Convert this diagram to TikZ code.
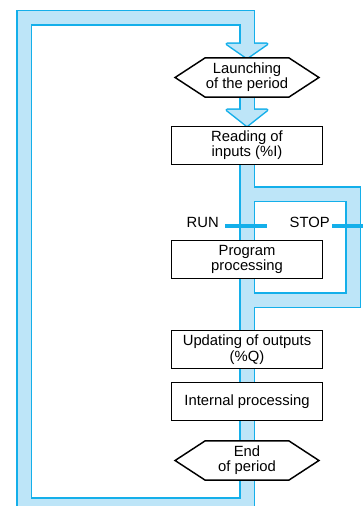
\documentclass[tikz,border=0pt]{standalone}
\usepackage{fontspec}
\setmainfont{Liberation Sans}
\usepackage{xcolor}
\usepackage{tikz}
\usetikzlibrary{positioning, backgrounds}

\definecolor{bandfill}{RGB}{189,229,248}
\definecolor{bandedge}{RGB}{20,175,234}

\begin{document}
\begin{tikzpicture}[x=0.75pt, y=-0.75pt, node distance=1cm, on grid,
		font=\fontsize{11.1}{11.5}\selectfont,
		box/.style={draw, fill=white, line width=1.1pt, minimum width=113pt, minimum height=28.5pt, inner sep=0pt, align=center},
		hexbox/.style={minimum width=62.5pt, minimum height=29pt, inner sep=0pt, align=center},
		hexline/.style={draw=black, fill=white, line width=1.1pt},
		lbl/.style={inner sep=0pt},
		bar/.style={bandedge, line width=3pt}]
		\useasboundingbox (0,0) rectangle (362,506);
		
		\node[hexbox] (launch) at (247,77.5) {Launching\\of the period};
		\node[box] (read) [below=51pt of launch] {Reading of\\inputs (\%I)};
		\node[box] (prog) [below=85.5pt of read] {Program\\processing};
		\node[box] (upd) [below=67.5pt of prog] {Updating of outputs\\(\%Q)};
		\node[box] (intp) [below=39pt of upd] {Internal processing};
		\node[hexbox] (endp) [below=44.25pt of intp] {End\\of period};
		
		\coordinate (botR) at (247,505);
		\coordinate (botL) at (24,505);
		\coordinate (topL) at (24,18);
		\coordinate (topR) at (247,18);
		\coordinate (arrA) at (247,44);
		\coordinate (arrB) at (247,110);
		\coordinate (brk) at (247,194);
		\coordinate (brkR) at (353,194);
		\coordinate (retR) at (353,300);
		\coordinate (ret) at (247,300);
		\coordinate (runL) at (225,226);
		\coordinate (runR) at (267,226);
		\coordinate (stopL) at (332,226);
		\coordinate (stopR) at (363,226);
		
		\begin{pgfonlayer}{background}
			\foreach \c/\d/\w in {bandedge/bandedge/12pt, bandfill/none/9.75pt} {
				\draw[\c, line width=\w] (endp.south) -- (botR) -- (botL) -- (topL) -- (topR) -- (arrA);
				\draw[\c, line width=\w] (launch.south) -- (arrB);
				\draw[\c, line width=\w] (read.south) -- (endp.north);
				\draw[\c, line width=\w] (brk) -- (brkR) -- (retR) -- (ret);
				\path[fill=\c, draw=\d, line width=2.25pt, line join=round] ([xshift=-15pt]arrA) -- ([xshift=15pt]arrA) -- (launch.north) -- cycle;
				\path[fill=\c, draw=\d, line width=2.25pt, line join=round] ([xshift=-15pt]arrB) -- ([xshift=15pt]arrB) -- (read.north) -- cycle;
			}
			\foreach \h in {launch, endp}
				\path[hexline] (\h.north west) -- (\h.north east) -- ([xshift=22.5pt]\h.east) -- (\h.south east) -- (\h.south west) -- ([xshift=-22.5pt]\h.west) -- cycle;
		\end{pgfonlayer}
		
		\draw[bar] (runL) -- (runR);
		\draw[bar] (stopL) -- (stopR);
		\node[lbl, anchor=base east] (run) at ([xshift=-4.5pt, yshift=-0.75pt]runL) {RUN};
		\node[lbl, anchor=base east] (stop) at ([xshift=-1.5pt, yshift=-0.75pt]stopL) {STOP};
	\end{tikzpicture}
\end{document}
